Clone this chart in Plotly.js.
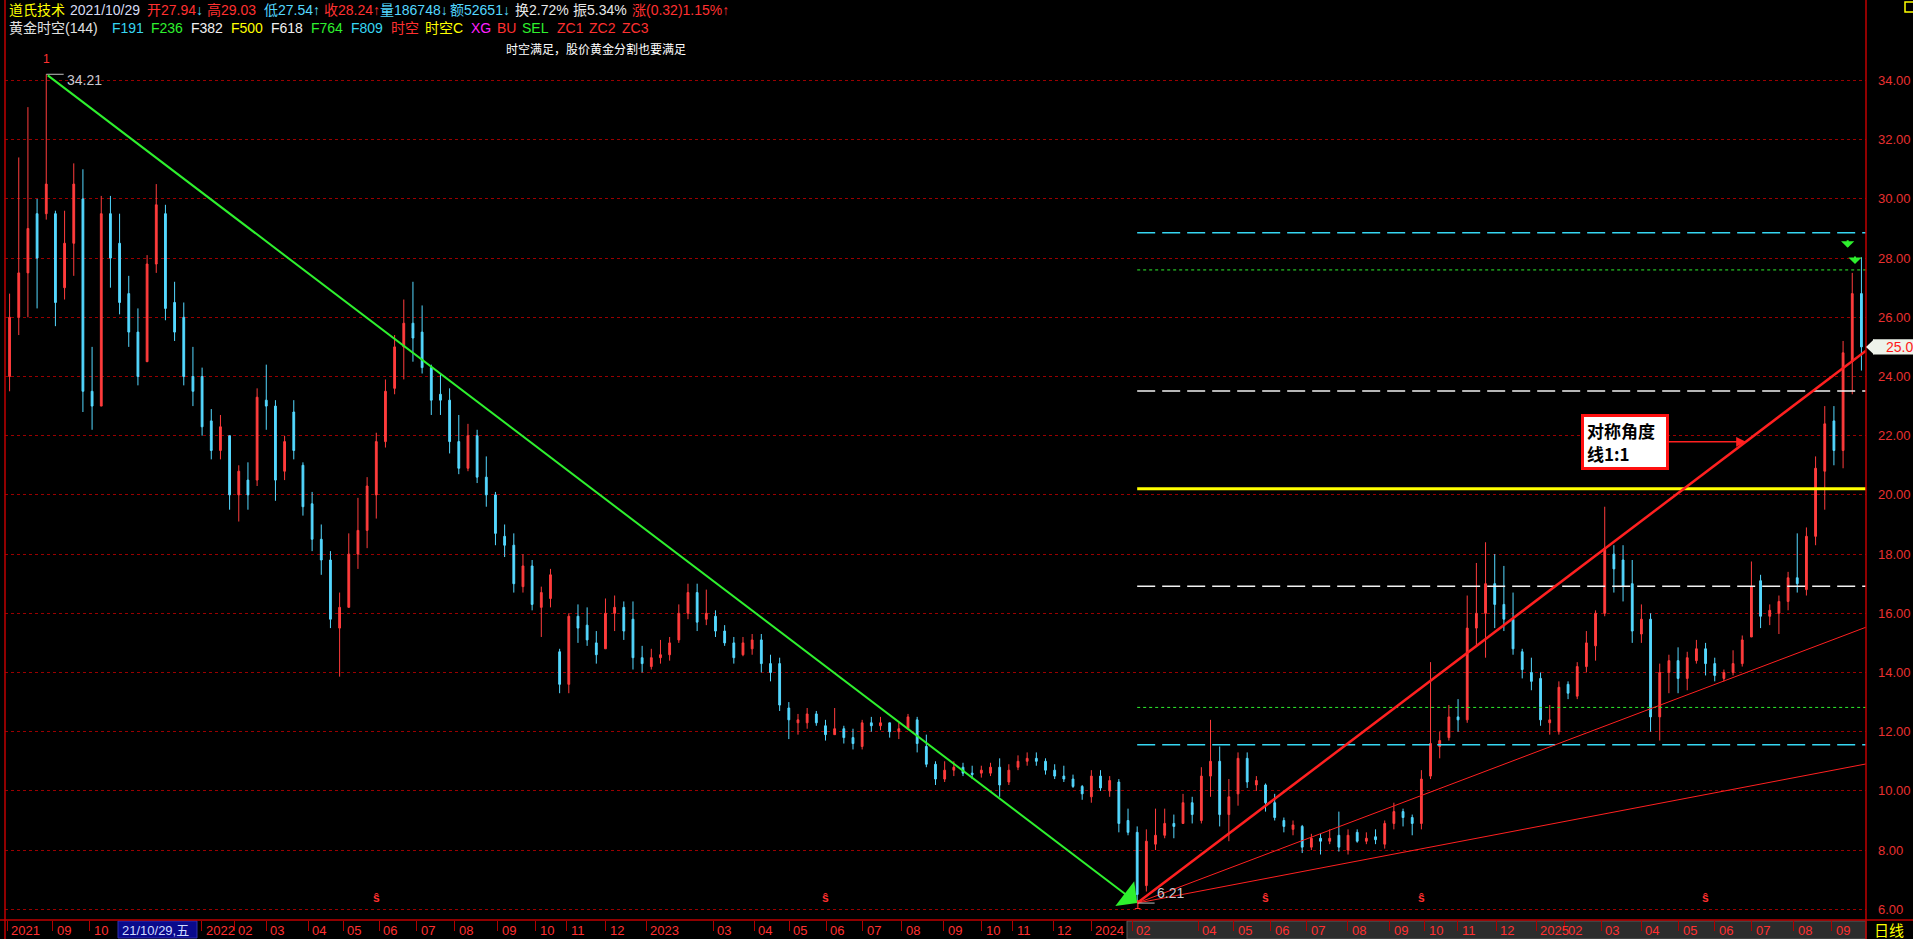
<!DOCTYPE html>
<html><head><meta charset="utf-8">
<script src="https://cdn.plot.ly/plotly-3.0.1.min.js"></script>
<style>html,body{margin:0;padding:0;background:#000;overflow:hidden}#c{width:1913px;height:939px}</style>
</head><body><div id="c"></div>
<script>
// ---- data (5-trading-day bars) ----
const openP = [24.0,26.0,27.5,29.5,29.5,29.5,27.0,28.5,30.0,23.5,
23.0,29.5,28.5,26.8,25.5,24.5,27.8,29.5,26.5,26.0,
24.0,24.0,22.5,21.5,22.0,20.0,20.5,20.5,23.2,23.0,
20.8,22.8,21.0,19.7,18.5,17.8,15.5,16.2,18.0,18.8,
20.0,21.8,23.6,25.0,25.8,25.5,24.3,23.4,23.2,21.8,
20.9,22.0,20.6,20.0,18.6,18.3,16.9,17.6,16.2,16.5,
14.7,13.6,15.9,15.6,15.0,14.8,16.0,16.2,15.8,14.5,
14.2,14.5,14.6,15.1,16.0,16.7,15.8,15.9,15.4,15.0,
14.6,14.8,15.1,14.3,14.3,12.8,12.3,12.3,12.6,12.2,
11.9,12.1,11.8,11.5,12.3,12.2,12.3,12.0,12.1,12.4,
11.5,10.9,10.4,10.7,10.8,10.6,10.6,10.6,10.8,10.3,
10.8,11.0,11.1,11.0,10.7,10.5,10.4,10.15,9.8,10.5,
10.0,10.3,9.0,8.6,6.8,8.2,8.5,8.9,8.9,9.6,
9.0,10.5,11.0,9.2,9.9,11.1,10.2,10.2,9.6,9.0,
8.7,8.8,8.1,8.4,8.3,8.5,8.0,8.6,8.3,8.45,
8.2,8.9,9.3,9.1,8.9,10.5,11.5,11.8,12.5,12.4,
15.5,16.0,17.0,16.3,15.8,14.7,14.0,13.8,12.3,12.0,
13.6,13.2,14.2,14.9,16.0,18.0,17.8,17.0,15.3,15.8,
12.5,14.0,14.4,13.8,14.4,14.8,14.3,13.8,14.0,14.3,
15.2,17.1,15.9,16.0,16.4,17.2,16.8,18.6,20.8,22.5,
21.5,24.5,26.8];
const highP = [26.8,31.4,33.1,30.0,34.21,29.6,29.6,31.2,31.0,25.0,
30.1,30.1,29.5,27.4,26.3,28.1,30.5,29.8,27.2,26.5,
25.0,24.3,22.9,22.7,22.0,21.0,21.1,23.6,24.4,23.2,
22.0,23.2,21.1,20.1,19.0,18.1,16.7,18.7,19.9,20.6,
22.1,23.9,25.4,26.6,27.2,26.4,24.4,24.1,23.6,22.7,
22.4,22.2,21.3,20.1,19.0,18.7,18.0,17.8,16.9,17.5,
14.8,16.0,16.3,16.2,15.4,16.5,16.6,16.4,16.4,14.9,
14.8,15.1,15.2,16.3,17.0,17.0,16.8,16.1,15.6,15.2,
15.2,15.3,15.3,14.6,14.5,13.0,12.6,12.8,12.7,12.4,
12.8,12.2,12.1,12.4,12.5,12.5,12.3,12.3,12.6,12.5,
11.9,11.0,11.0,11.0,10.95,10.85,10.85,10.95,11.1,10.9,
11.2,11.3,11.3,11.1,10.9,10.85,10.55,10.2,10.7,10.7,
10.5,10.4,9.4,8.8,8.7,9.4,9.4,9.2,9.9,9.8,
10.8,12.4,11.5,10.4,11.3,11.3,10.5,10.25,9.9,9.1,
9.0,8.85,8.55,8.55,8.7,9.3,8.7,8.7,8.6,8.7,
9.0,9.6,9.4,9.2,10.7,14.35,12.0,12.9,13.1,16.6,
17.7,18.4,18.0,17.6,16.7,14.8,14.5,14.0,12.9,13.7,
13.7,14.35,15.4,16.1,19.6,18.3,18.3,17.8,16.3,16.0,
14.3,14.6,14.85,14.7,15.1,15.0,14.5,14.1,14.75,15.25,
17.75,17.3,16.3,16.6,17.4,18.7,18.9,21.3,23.0,23.0,
25.2,27.5,28.03];
const lowP = [23.5,25.4,26.0,26.3,29.3,25.7,26.6,27.4,22.8,22.2,
23.0,27.0,26.1,25.0,23.7,24.5,27.5,25.9,25.2,23.7,
23.0,22.0,21.2,21.2,19.5,19.1,19.5,20.3,22.2,19.8,
20.5,21.2,19.3,18.1,17.3,15.5,13.86,16.2,17.5,18.2,
19.2,21.6,23.4,23.9,24.5,24.1,22.7,22.7,21.4,20.7,
20.8,20.4,19.6,18.3,17.9,16.7,16.7,16.1,15.2,16.2,
13.3,13.3,15.0,14.9,14.3,14.8,15.4,15.1,14.1,14.0,
14.1,14.3,14.4,15.0,15.8,15.4,15.6,15.2,14.9,14.3,
14.55,14.6,14.0,13.7,12.7,11.75,11.9,12.1,12.2,11.7,
11.9,11.6,11.4,11.4,12.0,12.05,11.8,11.75,12.1,11.3,
10.8,10.2,10.3,10.5,10.5,10.4,10.45,10.5,9.8,10.2,
10.7,10.85,10.85,10.55,10.4,10.3,10.1,9.7,9.6,10.0,
9.8,8.6,8.5,6.21,6.6,8.0,8.4,8.4,8.9,8.9,
8.9,9.8,8.8,8.3,9.5,10.1,10.0,9.3,9.0,8.6,
8.5,7.9,8.0,7.85,8.2,7.95,7.85,8.25,8.2,8.2,
8.05,8.7,8.8,8.5,8.7,10.4,11.1,11.7,12.0,12.3,
14.9,14.5,15.5,15.4,14.6,13.8,13.4,12.2,11.9,11.9,
13.1,13.1,14.0,14.4,15.9,16.7,16.4,15.0,15.0,12.0,
11.7,13.3,13.3,13.4,14.3,13.9,13.7,13.7,13.9,14.2,
15.2,15.5,15.6,15.3,16.1,16.7,16.6,18.3,19.5,21.0,
20.9,23.4,24.2];
const closeP = [26.0,27.5,29.0,28.0,30.5,26.5,28.5,30.5,23.5,23.0,
29.5,28.0,26.5,25.5,24.0,27.8,29.8,26.3,25.5,24.0,
23.5,22.3,21.5,22.3,20.0,20.8,20.0,23.3,23.0,20.5,
21.8,21.5,19.6,18.5,17.8,15.8,16.2,18.0,18.8,20.3,
21.8,23.5,25.0,25.8,25.3,24.3,23.2,23.2,21.8,20.9,
22.0,20.6,20.0,18.7,18.3,17.0,17.6,16.3,16.7,17.3,
13.6,15.9,15.5,15.1,14.6,16.0,16.2,15.4,14.5,14.3,
14.5,14.6,15.0,16.0,16.7,15.7,16.0,15.4,15.0,14.5,
15.0,15.1,14.3,14.0,12.9,12.4,12.4,12.6,12.3,11.9,
12.1,11.8,11.6,12.3,12.2,12.3,12.0,12.1,12.5,11.6,
10.9,10.4,10.7,10.8,10.6,10.55,10.7,10.8,10.2,10.7,
11.0,11.1,11.0,10.7,10.5,10.4,10.15,9.9,10.5,10.1,
10.35,8.9,8.6,6.5,8.3,8.5,8.9,8.8,9.6,9.2,
10.5,11.0,9.2,9.8,11.1,10.3,10.35,9.6,9.1,8.8,
8.85,8.1,8.4,8.3,8.4,8.1,8.5,8.3,8.4,8.35,
8.9,9.3,9.1,8.9,10.4,11.6,11.7,12.5,12.4,15.5,
16.0,17.0,16.3,15.8,14.8,14.1,13.7,12.4,12.4,13.5,
13.3,14.2,15.0,16.0,18.2,17.5,16.9,15.4,15.8,12.5,
14.0,14.4,13.8,14.5,14.8,14.3,13.9,14.0,14.3,15.1,
16.9,15.9,16.1,16.4,17.2,17.0,18.6,20.9,22.4,21.5,
24.8,26.8,25.0];

const tickLabels = ['2021','09','10','2022','02','03','04','05','06','07','08','09','10','11','12',
'2023','03','04','05','06','07','08','09','10','11','12',
'2024','02','04','05','06','07','08','09','10','11','12',
'2025','02','03','04','05','06','07','08','09'];
const tickPos = [-0.28,4.72,8.75,20.94,24.53,28.01,32.58,36.39,40.31,44.44,48.58,53.25,57.39,60.76,65.01,
69.47,76.76,81.22,85.03,89.06,93.08,97.33,101.9,106.03,109.4,113.87,
118.0,122.46,129.65,133.56,137.59,141.5,145.97,150.54,154.35,157.94,162.18,
166.53,169.58,173.61,177.96,182.09,186.01,190.04,194.61,198.74];

const fibNames  = ['F809','F764','F618','F500','F382','F236','F191'];
const fibLevels = [28.86, 27.60, 23.51, 20.21, 16.91, 12.82, 11.56];
const angleNames = ['1:1','1:2','1:4'];
const angleEnds  = [24.87, 15.53, 10.91];
const sMarkers = [40, 89, 137, 154, 185];
const arrowX = [200.5, 201.3];
const arrowY = [28.35, 27.8];
const lastPrice = 25.0;

// ---- geometry helpers (layout only) ----
const PL = 5, PR = 1866, PT = 40, PB = 920;
const X = p => (p - PL) / (PR - PL);
const Y = y => (PB - y) / (PB - PT);
const xMax = openP.length - 0.5;

const UP = '#ff3c3c', DN = '#54d8ff', RED = '#ff3030';
const peakIdx = highP.indexOf(Math.max(...highP));
const lowIdx = lowP.indexOf(Math.min(...lowP));
const peakV = highP[peakIdx], lowV = lowP[lowIdx];

const fibStyle = {
  F809:{color:'#36d6f2', dash:'18px,7px', width:1.5},
  F764:{color:'#2ef02e', dash:'3px,3px', width:1},
  F618:{color:'#f2f2f2', dash:'18px,7px', width:1.5},
  F500:{color:'#ffff00', dash:'solid', width:3},
  F382:{color:'#f2f2f2', dash:'18px,7px', width:1.5},
  F236:{color:'#2ef02e', dash:'3px,3px', width:1},
  F191:{color:'#36d6f2', dash:'18px,7px', width:1.5}
};
const angleWidth = {'1:1':2.5,'1:2':1,'1:4':1};

const traces = [];
traces.push({
  type:'candlestick', x: openP.map((_, i) => i),
  open: openP, high: highP, low: lowP, close: closeP,
  increasing:{line:{color:UP, width:1}, fillcolor:UP},
  decreasing:{line:{color:DN, width:1}, fillcolor:DN},
  whiskerwidth:0, hoverinfo:'none', showlegend:false
});
fibNames.forEach((n, k) => {
  const s = fibStyle[n];
  traces.push({type:'scatter', mode:'lines', x:[lowIdx, xMax], y:[fibLevels[k], fibLevels[k]],
    line:{color:s.color, dash:s.dash, width:s.width}, hoverinfo:'none', showlegend:false});
});
angleNames.forEach((n, k) => {
  traces.push({type:'scatter', mode:'lines', x:[lowIdx, xMax], y:[lowV, angleEnds[k]],
    line:{color:'#ff2020', width:angleWidth[n]}, hoverinfo:'none', showlegend:false});
});

const ann = [];
const font = (size, color, extra) => Object.assign({size, color}, extra || {});
// header
const row1 = [['道氏技术',7,'#ffff00'],['2021/10/29',68,'#d8dcf4'],
 ['开27.94<span style="color:#54d8ff">↓</span>',145,RED],['高29.03',205,RED],
 ['低27.54↑',262,'#54d8ff'],['收28.24↑',322,RED],['量186748↓',378,'#54d8ff'],
 ['额52651↓',448,'#54d8ff'],['换2.72%',513,'#e8e8e8'],['振5.34%',571,'#e8e8e8'],
 ['涨(0.32)1.15%↑',630,RED]];
const row2 = [['黄金时空(144)',7,'#e0e0e0'],['F191',110,'#36d6f2'],['F236',149,'#2ef02e'],
 ['F382',189,'#f0f0f0'],['F500',229,'#ffff00'],['F618',269,'#f0f0f0'],['F764',309,'#2ef02e'],
 ['F809',349,'#36d6f2'],['时空',389,RED],['时空C',423,'#ffff00'],['XG',469,'#ff20ff'],
 ['BU',495,RED],['SEL',520,'#2ef02e'],['ZC1',555,RED],['ZC2',587,RED],['ZC3',620,RED]];
row1.forEach(r => ann.push({xref:'paper', yref:'paper', x:X(r[1]), y:Y(10), xanchor:'left', yanchor:'middle', text:r[0], showarrow:false, font:font(14, r[2])}));
row2.forEach(r => ann.push({xref:'paper', yref:'paper', x:X(r[1]), y:Y(28), xanchor:'left', yanchor:'middle', text:r[0], showarrow:false, font:font(14, r[2])}));
ann.push({xref:'paper', yref:'paper', x:X(504), y:Y(50), xanchor:'left', yanchor:'middle', text:'时空满足，股价黄金分割也要满足', showarrow:false, font:font(12, '#ffffff')});
// markers 1
ann.push({xref:'x', yref:'paper', x:peakIdx, y:Y(50), text:'1', showarrow:false, font:font(12, RED)});
ann.push({xref:'x', yref:'paper', x:lowIdx, y:Y(914), text:'1', showarrow:false, font:font(12, RED)});
ann.push({xref:'x', yref:'y', x:peakIdx, y:peakV, xanchor:'left', yanchor:'middle', xshift:19, yshift:-6, text:peakV.toFixed(2), showarrow:false, font:font(14, '#c8c8d0')});
ann.push({xref:'x', yref:'y', x:lowIdx, y:lowV, xanchor:'left', yanchor:'middle', xshift:18, yshift:10, text:lowV.toFixed(2), showarrow:false, font:font(14, '#c8c8d0')});
// x labels
tickLabels.forEach((t, i) => ann.push({xref:'x', yref:'paper', x:tickPos[i], y:Y(930), xanchor:'left', yanchor:'middle', xshift:2, text:t, showarrow:false, font:font(13, '#ff3030')}));
ann.push({xref:'paper', yref:'paper', x:X(120), y:Y(930), xanchor:'left', yanchor:'middle', text:'21/10/29,五', showarrow:false, font:font(13, '#d0dcff')});
ann.push({xref:'paper', yref:'paper', x:X(1872), y:Y(930), xanchor:'left', yanchor:'middle', text:'日线', showarrow:false, font:font(15, '#ffff00')});
// s markers
sMarkers.forEach(i => ann.push({xref:'x', yref:'paper', x:i, y:Y(907), text:'<b>ŝ</b>', showarrow:false, font:font(12, RED)}));
// green trend arrow
ann.push({xref:'x', yref:'y', axref:'x', ayref:'y', x:lowIdx, y:lowV, ax:peakIdx, ay:peakV, text:'', showarrow:true,
  arrowcolor:'#2ef02e', arrowwidth:2, arrowhead:1, arrowsize:2.6, standoff:0});
// green signal arrows
arrowX.forEach((x, i) => ann.push({xref:'x', yref:'y', x:x, y:arrowY[i], ax:0, ay:-9, text:'', showarrow:true,
  arrowcolor:'#2ef02e', arrowwidth:2, arrowhead:1, arrowsize:1.1, standoff:0}));
// note box pointing to 1:1 line
const noteX = 189.4;
const noteY = lowV + (angleEnds[0] - lowV) * (noteX - lowIdx) / (xMax - lowIdx);
ann.push({xref:'x', yref:'y', x:noteX, y:noteY, ax:-121, ay:0, text:'<b>对称角度<br>线1:1</b>', align:'left',
  font:font(17, '#000000', {family:'Noto Sans CJK SC, sans-serif'}), bgcolor:'#ffffff', bordercolor:'#ff1010', borderwidth:3, borderpad:3,
  width:76, height:44, showarrow:true, arrowcolor:'#ff2020', arrowwidth:1.5, arrowhead:2, arrowsize:1.3, standoff:0});
// price tag
ann.push({xref:'paper', yref:'y', x:X(1884), y:lastPrice, xanchor:'left', yanchor:'middle', text:lastPrice.toFixed(1), showarrow:false, font:font(14, '#ff1818')});

const shapes = [
  {type:'rect', xref:'paper', yref:'paper', x0:X(1127), x1:X(1866), y0:Y(939), y1:Y(921), fillcolor:'#2c2c2c', line:{color:'#5a5a5a', width:1}, layer:'below'},
  {type:'rect', xref:'paper', yref:'paper', x0:X(118), x1:X(197), y0:Y(938), y1:Y(921), fillcolor:'#0a0a8c', line:{color:'#3030b0', width:1}, layer:'below'},
  {type:'line', xref:'paper', yref:'paper', x0:X(0), x1:X(1913), y0:Y(920), y1:Y(920), line:{color:'#c00000', width:1.5}},
  {type:'line', xref:'paper', yref:'paper', x0:X(PR), x1:X(PR), y0:Y(0), y1:Y(939), line:{color:'#c00000', width:1.5}},
  {type:'line', xref:'paper', yref:'paper', x0:X(5), x1:X(5), y0:Y(0), y1:Y(939), line:{color:'#c00000', width:1.5}},
  {type:'rect', xref:'paper', yref:'paper', x0:X(1905), x1:X(1914), y0:Y(12), y1:Y(2), line:{color:'#ffff00', width:1.5}},
  {type:'line', xref:'x', yref:'y', x0:peakIdx, x1:peakIdx+1.9, y0:peakV, y1:peakV, line:{color:'#c0c0c0', width:1}},
  {type:'line', xref:'x', yref:'y', x0:lowIdx, x1:lowIdx+1.9, y0:lowV, y1:lowV, line:{color:'#c0c0c0', width:1}},
  {type:'rect', xref:'paper', yref:'y', x0:X(1873), x1:X(1915), y0:lastPrice-0.26, y1:lastPrice+0.26, fillcolor:'#eef3ea', line:{width:0}},
  {type:'path', xref:'paper', yref:'y', path:`M ${X(1866)} ${lastPrice} L ${X(1874)} ${lastPrice+0.26} L ${X(1874)} ${lastPrice-0.26} Z`, fillcolor:'#eef3ea', line:{width:0}}
];

const layout = {
  width:1913, height:939, autosize:false,
  margin:{l:PL, r:1913-PR, t:PT, b:939-PB, pad:0},
  paper_bgcolor:'#000000', plot_bgcolor:'#000000',
  font:{family:'Liberation Sans, Arial, Noto Sans CJK SC, sans-serif', color:'#ffffff'},
  showlegend:false, hovermode:false, boxgap:0.72,
  xaxis:{range:[-0.5, xMax], tickvals:tickPos, ticks:'outside', ticklen:10, tickcolor:'#b00000', tickwidth:1,
    showticklabels:false, showgrid:false, zeroline:false, showline:false, rangeslider:{visible:false}, fixedrange:true},
  yaxis:{side:'right', range:[5.638, 35.368], tick0:0, dtick:2, tickformat:'.2f', showgrid:true, gridcolor:'#9a0000',
    griddash:'dot', gridwidth:1, ticks:'', ticklabelstandoff:11, tickfont:{size:13, color:'#e83030'},
    zeroline:false, showline:false, fixedrange:true},
  annotations:ann, shapes:shapes
};
Plotly.newPlot('c', traces, layout, {staticPlot:true, displayModeBar:false});
</script>
</body></html>
